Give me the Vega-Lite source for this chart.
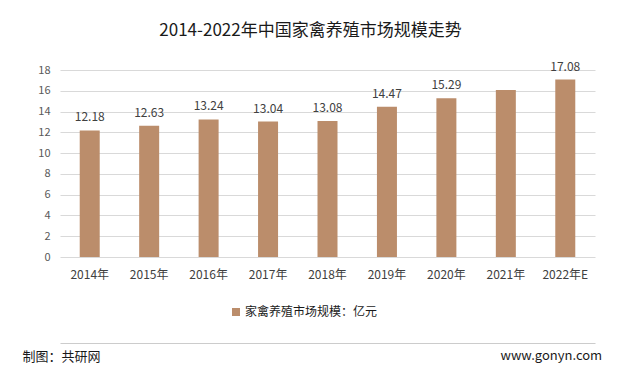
{
  "$schema": "https://vega.github.io/schema/vega-lite/v6.json",
  "autosize": "none",
  "width": 535,
  "height": 187,
  "padding": {"left": 60, "top": 70, "right": 22, "bottom": 117},
  "background": "white",
  "config": {
    "font": "Noto Sans CJK SC",
    "view": {"stroke": null},
    "axisX": {"domain": true, "domainColor": "#cccccc", "domainWidth": 1.2, "domainOpacity": 1}
  },
  "title": {
    "text": "2014-2022年中国家禽养殖市场规模走势",
    "fontSize": 17,
    "fontWeight": "normal",
    "color": "#1a1a1a",
    "font": "Noto Sans CJK SC",
    "anchor": "middle",
    "frame": "group",
    "dx": -17,
    "baseline": "middle",
    "offset": 13
  },
  "data": {
    "values": [
      {"year": "2014年", "value": 12.18, "label": "12.18", "series": "家禽养殖市场规模：亿元"},
      {"year": "2015年", "value": 12.63, "label": "12.63", "series": "家禽养殖市场规模：亿元"},
      {"year": "2016年", "value": 13.24, "label": "13.24", "series": "家禽养殖市场规模：亿元"},
      {"year": "2017年", "value": 13.04, "label": "13.04", "series": "家禽养殖市场规模：亿元"},
      {"year": "2018年", "value": 13.08, "label": "13.08", "series": "家禽养殖市场规模：亿元"},
      {"year": "2019年", "value": 14.47, "label": "14.47", "series": "家禽养殖市场规模：亿元"},
      {"year": "2020年", "value": 15.29, "label": "15.29", "series": "家禽养殖市场规模：亿元"},
      {"year": "2021年", "value": 16.08, "label": "", "series": "家禽养殖市场规模：亿元"},
      {"year": "2022年E", "value": 17.08, "label": "17.08", "series": "家禽养殖市场规模：亿元"}
    ]
  },
  "encoding": {
    "x": {
      "field": "year",
      "type": "nominal",
      "sort": null,
      "scale": {"paddingInner": 0.66, "paddingOuter": 0.33},
      "axis": {
        "offset": 86,
        "title": "制图：共研网",
        "titleFontSize": 13,
        "titleFontWeight": "normal",
        "titleColor": "#1a1a1a",
        "titleAnchor": "start",
        "titleAlign": "left",
        "titleBaseline": "middle",
        "titleX": -38,
        "titleY": 13,
        "labelAngle": 0,
        "labelFontSize": 12,
        "labelColor": "#404040",
        "labelPadding": -74,
        "ticks": false,
        "domain": true,
        "domainColor": "#cccccc",
        "domainWidth": 1.2
      }
    },
    "y": {
      "field": "value",
      "type": "quantitative",
      "scale": {"domain": [0, 18], "nice": false},
      "axis": {
        "values": [0, 2, 4, 6, 8, 10, 12, 14, 16, 18],
        "labelOverlap": false,
        "title": "www.gonyn.com",
        "titleAngle": 0,
        "titleFontSize": 13,
        "titleFontWeight": "normal",
        "titleColor": "#1a1a1a",
        "titleAlign": "left",
        "titleAnchor": "start",
        "titleBaseline": "middle",
        "titleX": 440,
        "titleY": 285,
        "labelFontSize": 11,
        "labelColor": "#595959",
        "labelPadding": 10,
        "ticks": false,
        "domain": false,
        "gridColor": "#d9d9d9"
      }
    }
  },
  "layer": [
    {
      "mark": {"type": "bar", "width": 20},
      "encoding": {
        "color": {
          "field": "series",
          "type": "nominal",
          "scale": {"range": ["#BB8D6B"]},
          "legend": {
            "title": null,
            "orient": "none",
            "legendX": 170,
            "legendY": 236,
            "symbolType": "square",
            "symbolSize": 64,
            "labelFontSize": 12,
            "labelColor": "#1a1a1a",
            "labelOffset": 3
          }
        }
      }
    },
    {
      "mark": {"type": "text", "baseline": "bottom", "dy": -6, "fontSize": 12, "color": "#404040"},
      "encoding": {
        "text": {"field": "label"}
      }
    }
  ]
}
